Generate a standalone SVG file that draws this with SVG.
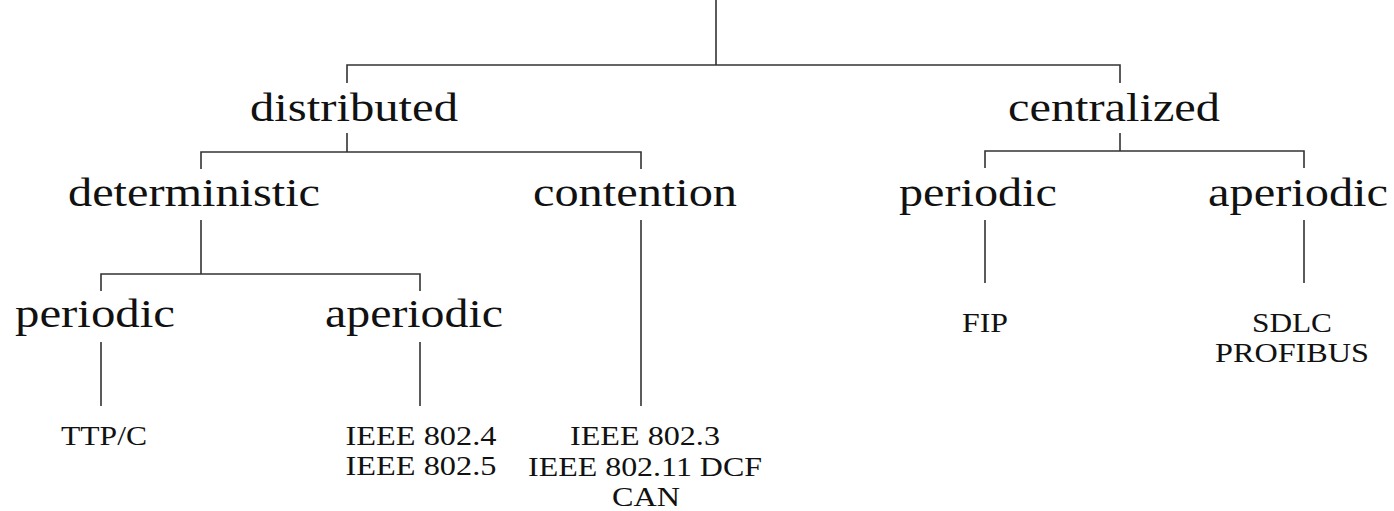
<svg xmlns="http://www.w3.org/2000/svg" width="1394" height="511" viewBox="0 0 1394 511">
  <style>
    .lbl { font-family: "Times New Roman", "Liberation Serif", Tinos, serif; fill: #111; text-anchor: middle; }
    .big { font-size: 40px; }
    .small { font-size: 27px; }
    .edge { stroke: #333; stroke-width: 1.6; fill: none; }
  </style>
  <rect width="1394" height="511" fill="#fff"/>

  <!-- tree connectors -->
  <g id="connectors">
    <path class="edge" d="M716 0 V65 M347 83 V65 H1120 V83"/>
    <path class="edge" d="M347 133 V152 M201 169 V152 H641 V169"/>
    <path class="edge" d="M1120 133 V151 M985 168 V151 H1304 V168"/>
    <path class="edge" d="M201 220 V274 M101 291 V274 H420 V291"/>
    <path class="edge" d="M641 220 V406"/>
    <path class="edge" d="M101 342 V406 M420 342 V406"/>
    <path class="edge" d="M985 220 V283 M1304 220 V283"/>
  </g>

  <!-- branch nodes -->
  <g id="distributed"><text class="lbl big" x="354" y="121" textLength="208" lengthAdjust="spacingAndGlyphs">distributed</text></g>
  <g id="centralized"><text class="lbl big" x="1114" y="121" textLength="212" lengthAdjust="spacingAndGlyphs">centralized</text></g>
  <g id="deterministic"><text class="lbl big" x="194" y="206" textLength="252" lengthAdjust="spacingAndGlyphs">deterministic</text></g>
  <g id="contention"><text class="lbl big" x="635" y="206" textLength="204" lengthAdjust="spacingAndGlyphs">contention</text></g>
  <g id="c-periodic"><text class="lbl big" x="978" y="206" textLength="158" lengthAdjust="spacingAndGlyphs">periodic</text></g>
  <g id="c-aperiodic"><text class="lbl big" x="1298" y="206" textLength="180" lengthAdjust="spacingAndGlyphs">aperiodic</text></g>
  <g id="d-periodic"><text class="lbl big" x="95" y="327" textLength="160" lengthAdjust="spacingAndGlyphs">periodic</text></g>
  <g id="d-aperiodic"><text class="lbl big" x="414" y="327" textLength="178" lengthAdjust="spacingAndGlyphs">aperiodic</text></g>

  <!-- protocol leaves -->
  <g id="ttpc"><text class="lbl small" x="104" y="445" textLength="86" lengthAdjust="spacingAndGlyphs">TTP/C</text></g>
  <g id="token">
    <text class="lbl small" x="421" y="445" textLength="151" lengthAdjust="spacingAndGlyphs">IEEE 802.4</text>
    <text class="lbl small" x="421" y="475" textLength="151" lengthAdjust="spacingAndGlyphs">IEEE 802.5</text>
  </g>
  <g id="csma">
    <text class="lbl small" x="645" y="445" textLength="150" lengthAdjust="spacingAndGlyphs">IEEE 802.3</text>
    <text class="lbl small" x="645" y="476" textLength="234" lengthAdjust="spacingAndGlyphs">IEEE 802.11 DCF</text>
    <text class="lbl small" x="646" y="506" textLength="68" lengthAdjust="spacingAndGlyphs">CAN</text>
  </g>
  <g id="fip"><text class="lbl small" x="985" y="332" textLength="46" lengthAdjust="spacingAndGlyphs">FIP</text></g>
  <g id="master">
    <text class="lbl small" x="1292" y="332" textLength="80" lengthAdjust="spacingAndGlyphs">SDLC</text>
    <text class="lbl small" x="1292" y="362" textLength="154" lengthAdjust="spacingAndGlyphs">PROFIBUS</text>
  </g>
</svg>
